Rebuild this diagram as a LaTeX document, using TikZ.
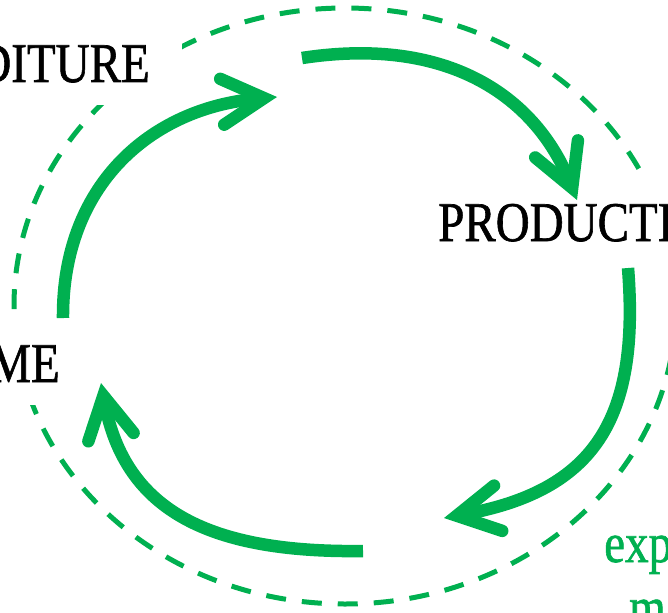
\documentclass[tikz,border=0pt]{standalone}
\usepackage{fontspec}
\setmainfont{Liberation Serif}[BoldFont=Liberation Serif, BoldFeatures={FakeBold=1.2}]
\usepackage{graphicx}
\usetikzlibrary{arrows.meta}
\definecolor{ogreen}{RGB}{0,176,80}
\newcommand{\sqz}[1]{\scalebox{0.84}[1]{\bfseries #1}}
\begin{document}
\begin{tikzpicture}[x=1pt,y=-1pt,
  flow/.style={draw=ogreen, line width=12.5pt, -{Straight Barb[length=42pt,width=46pt,line cap=round,line join=miter]}},
  ring/.style={draw=ogreen, line width=5pt, dash pattern=on 20pt off 16pt},
  lbl/.style={font=\fontsize{56}{60}\selectfont, fill=white, inner xsep=32pt, inner ysep=0pt, text height=68pt, text depth=23pt},
  note/.style={font=\fontsize{56}{60}\selectfont, text=ogreen, inner sep=0pt}]
\useasboundingbox (0,0) rectangle (668,612);
\clip (0,0) rectangle (668,612);
\draw[ring] (345,306) ellipse [x radius=331pt, y radius=298pt];
\node[lbl, anchor=base east] (expn) at (182,82) {\sqz{DITURE}};
\node[lbl, anchor=base west] (prod) at (406,241) {\sqz{PRODUCTI}};
\node[lbl, anchor=base east] (inc) at (92,382) {\sqz{ME}};
\node[note, anchor=base west] (n1) at (604,562) {\sqz{exp}};
\node[note, anchor=base west] (n2) at (629,626) {\sqz{m}};
\coordinate (a1s) at (63,318);
\coordinate (a1e) at (277,97);
\coordinate (a2s) at (302,58);
\coordinate (a2e) at (577,200);
\coordinate (a3s) at (628,268);
\coordinate (a3e) at (444,518);
\coordinate (a4s) at (363,551);
\coordinate (a4e) at (101,383);
\draw[flow] (a1s) .. controls (62,186) and (150,108) .. (a1e);
\draw[flow] (a2s) .. controls (452,35) and (537,100) .. (a2e);
\draw[flow] (a3s) .. controls (640,420) and (594,491) .. (a3e);
\draw[flow] (a4s) .. controls (213,553) and (125,513) .. (a4e);
\end{tikzpicture}
\end{document}
